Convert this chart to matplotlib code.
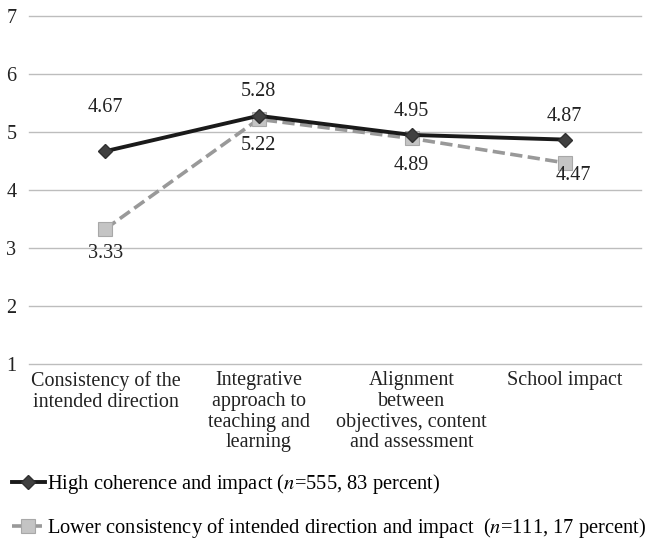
import matplotlib
matplotlib.use("Agg")
import matplotlib.pyplot as plt
from matplotlib.lines import Line2D

plt.rcParams["font.family"] = ["Liberation Serif", "DejaVu Serif"]
plt.rcParams["mathtext.fontset"] = "stix"

categories = [
    "Consistency of the\nintended direction",
    "Integrative\napproach to\nteaching and\nlearning",
    "Alignment\nbetween\nobjectives, content\nand assessment",
    "School impact",
]
high_values = [4.67, 5.28, 4.95, 4.87]
lower_values = [3.33, 5.22, 4.89, 4.47]
high_label = "High coherence and impact ($n$=555, 83 percent)"
lower_label = "Lower consistency of intended direction and impact  ($n$=111, 17 percent)"

# label offsets in pixels (dx, dy) for each point
high_offsets = [(0, 44), (0, 24), (0, 23), (0, 23)]
lower_offsets = [(0, -25), (0, -26), (0, -27), (9, -13)]

FS = 14.5
dash = (0, (3.4, 1.5))

fig = plt.figure(figsize=(6.47, 5.42), dpi=100)
ax = fig.add_axes([0.0448, 0.3284, 0.946, 0.642])

x = list(range(len(categories)))

ax.plot(x, lower_values, color="#999999", linestyle=dash, linewidth=2.6,
        marker="s", markersize=10, markerfacecolor="#c4c4c4",
        markeredgecolor="#a8a8a8", markeredgewidth=0.8, zorder=3)
ax.plot(x, high_values, color="#1a1a1a", linewidth=2.8,
        marker="D", markersize=7.5, markerfacecolor="#404040",
        markeredgecolor="#303030", zorder=4)

for xi, v, (dx, dy) in zip(x, high_values, high_offsets):
    ax.annotate(f"{v:.2f}", (xi, v), xytext=(dx, dy), textcoords="offset pixels",
                ha="center", va="center", fontsize=FS, color="#222222")
for xi, v, (dx, dy) in zip(x, lower_values, lower_offsets):
    ax.annotate(f"{v:.2f}", (xi, v), xytext=(dx, dy), textcoords="offset pixels",
                ha="center", va="center", fontsize=FS, color="#222222")

ax.set_xlim(-0.5, len(categories) - 0.5)
ax.set_ylim(1, 7)
ax.set_yticks(range(1, 8))
ax.yaxis.grid(True, color="#bdbdbd", linewidth=1)
for gl in ax.get_ygridlines():
    gl.set_clip_on(False)
ax.set_axisbelow(True)
for s in ax.spines.values():
    s.set_visible(False)
ax.tick_params(axis="both", length=0, labelsize=FS, colors="#222222")
ax.tick_params(axis="y", pad=9)
ax.set_xticks(x)
ax.set_xticklabels(categories, linespacing=1.13, va="top")
ax.tick_params(axis="x", pad=5)

handles = [
    Line2D([], [], color="#1a1a1a", linewidth=2.8, marker="D", markersize=7.5,
           markerfacecolor="#404040", markeredgecolor="#303030"),
    Line2D([], [], color="#999999", linestyle=dash, linewidth=2.6,
           marker="s", markersize=10, markerfacecolor="#c4c4c4",
           markeredgecolor="#a8a8a8", markeredgewidth=0.8),
]
fig.legend(handles, [high_label, lower_label], loc="upper left",
           bbox_to_anchor=(0.012, 0.136), frameon=False, fontsize=14.8,
           handlelength=1.6, handletextpad=0.12, labelspacing=0.95,
           borderaxespad=0, borderpad=0.2)

fig.savefig("out.png", dpi=100)
